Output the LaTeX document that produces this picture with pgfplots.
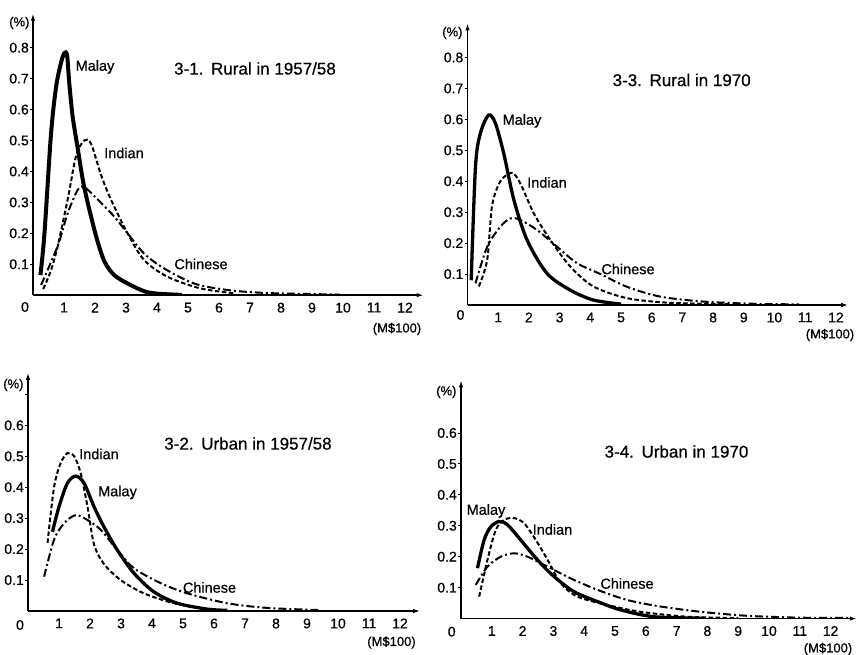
\documentclass[border=0pt]{standalone}
\usepackage{fontspec}
\setmainfont{Liberation Sans}[FakeBold=0.6]
\usepackage{pgfplots}
\pgfplotsset{compat=1.18}
\usetikzlibrary{arrows.meta}

\newcommand\tickfont{\fontsize{14}{15}\selectfont}
\newcommand\labfont{\fontsize{14.5}{15}\selectfont}
\newcommand\titfont{\fontsize{17}{18}\selectfont}
\newcommand\unitfont{\fontsize{13}{14}\selectfont}

\pgfplotsset{
  panel/.style={
    axis lines=left,
    axis line style={line width=1.6pt,-{Latex[length=7pt,width=4.5pt]}},
    xmin=0, ymin=0,
    xtick={1,...,12},
    xticklabels={1,2,3,4,5,6,7,8,9,10,11,12},
    xtick style={draw=none},
    ytick style={line width=0.9pt,black},
    major tick length=3pt, tick align=outside,
    tick label style={font=\tickfont},
    xticklabel style={yshift=-1pt},
    yticklabel style={inner sep=1pt},
    y=309.4pt,
  },
  malay/.style={black,line width=3.3pt,smooth},
  indian/.style={black,line width=2pt,smooth,dash pattern=on 4.5pt off 2.5pt},
  chinese/.style={black,line width=2pt,smooth,dash pattern=on 8pt off 3pt on 2pt off 3pt},
}

\begin{document}
\begin{tikzpicture}
\path[use as bounding box] (0,0) rectangle (857pt,655pt);

% ---- 3-1 Rural in 1957/58
\begin{axis}[panel, at={(33pt,359.8pt)}, anchor=south west,
  x=31pt, xmax=12.6, ymax=0.91,
  ytick={0.1,0.2,0.3,0.4,0.5,0.6,0.7,0.8},
  yticklabels={0.1,0.2,0.3,0.4,0.5,0.6,0.7,0.8}]
\addplot[malay,line width=4pt] coordinates {(0.24,0.065) (0.37,0.20) (0.58,0.52) (0.74,0.67) (0.90,0.75) (1.01,0.782) (1.10,0.775) (1.17,0.685) (1.28,0.577) (1.45,0.47) (1.65,0.35) (2.01,0.20) (2.30,0.11) (2.62,0.065) (3.05,0.038) (3.58,0.013) (4.0,0.005) (4.8,0.001)};
\addplot[indian] coordinates {(0.33,0.02) (0.58,0.08) (0.80,0.16) (1.12,0.31) (1.39,0.45) (1.65,0.50) (1.87,0.49) (2.19,0.39) (2.51,0.31) (3.05,0.20) (3.58,0.114) (4.33,0.06) (5.4,0.022) (6.5,0.006)};
\addplot[chinese] coordinates {(0.26,0.033) (0.80,0.16) (1.12,0.265) (1.44,0.34) (1.65,0.35) (2.08,0.31) (2.62,0.254) (3.05,0.20) (3.58,0.135) (4.22,0.087) (5.19,0.038) (6.26,0.017) (7.55,0.007) (9.9,0.002)};
\end{axis}

% ---- 3-3 Rural in 1970
\begin{axis}[panel, at={(467.5pt,350pt)}, anchor=south west,
  x=30.7pt, xmax=12.4, ymax=0.91,
  ytick={0.1,0.2,0.3,0.4,0.5,0.6,0.7,0.8},
  yticklabels={0.1,0.2,0.3,0.4,0.5,0.6,0.7,0.8}]
\addplot[malay] coordinates {(0.12,0.08) (0.26,0.447) (0.42,0.555) (0.69,0.614) (0.91,0.587) (1.18,0.49) (1.51,0.34) (1.94,0.21) (2.59,0.102) (3.35,0.048) (4.1,0.016) (5.0,0.003)};
\addplot[indian] coordinates {(0.37,0.06) (0.64,0.145) (0.80,0.32) (1.07,0.40) (1.45,0.427) (1.72,0.393) (2.16,0.296) (2.70,0.21) (3.35,0.124) (4.1,0.06) (5.2,0.022) (6.6,0.007) (8.5,0.003)};
\addplot[chinese] coordinates {(0.26,0.07) (0.64,0.188) (1.07,0.253) (1.40,0.28) (1.72,0.275) (2.27,0.242) (2.92,0.188) (3.57,0.135) (4.33,0.10) (5.19,0.059) (6.28,0.027) (7.69,0.011) (9.3,0.004) (10.8,0.002)};
\end{axis}

% ---- 3-2 Urban in 1957/58
\begin{axis}[panel, at={(28pt,44pt)}, anchor=south west,
  x=31pt, xmax=12.65, ymax=0.77,
  ytick={0.1,0.2,0.3,0.4,0.5,0.6,0.7},
  yticklabels={0.1,0.2,0.3,0.4,0.5,0.6,{}}]
\addplot[malay] coordinates {(0.79,0.256) (1.0,0.337) (1.27,0.413) (1.54,0.436) (1.81,0.413) (2.13,0.337) (2.45,0.272) (2.88,0.197) (3.42,0.122) (4.06,0.062) (4.82,0.025) (5.79,0.006) (6.43,0.002)};
\addplot[indian] coordinates {(0.63,0.22) (0.84,0.40) (1.05,0.477) (1.27,0.51) (1.49,0.50) (1.70,0.445) (1.92,0.337) (2.13,0.215) (2.45,0.152) (2.99,0.10) (3.74,0.057) (4.71,0.025) (5.79,0.005)};
\addplot[chinese] coordinates {(0.52,0.111) (0.84,0.23) (1.16,0.283) (1.54,0.31) (1.92,0.294) (2.35,0.262) (2.88,0.197) (3.42,0.138) (4.28,0.09) (5.14,0.057) (6.43,0.025) (7.72,0.01) (9.4,0.003)};
\end{axis}

% ---- 3-4 Urban in 1970
\begin{axis}[panel, at={(461pt,36.4pt)}, anchor=south west,
  x=30.8pt, xmax=12.85, ymax=0.77,
  ytick={0.1,0.2,0.3,0.4,0.5,0.6},
  yticklabels={0.1,0.2,0.3,0.4,0.5,0.6}]
\addplot[malay] coordinates {(0.535,0.163) (0.75,0.254) (0.97,0.297) (1.24,0.314) (1.51,0.303) (1.94,0.254) (2.48,0.19) (3.02,0.136) (3.67,0.087) (4.43,0.055) (5.19,0.028) (6.27,0.006) (7.9,0.001)};
\addplot[indian] coordinates {(0.59,0.071) (0.86,0.19) (1.13,0.287) (1.40,0.319) (1.72,0.325) (2.05,0.308) (2.43,0.254) (2.81,0.19) (3.24,0.114) (3.78,0.071) (4.75,0.044) (5.83,0.022) (7.35,0.006) (9.0,0.002)};
\addplot[chinese] coordinates {(0.48,0.109) (0.86,0.168) (1.29,0.20) (1.72,0.211) (2.16,0.20) (2.81,0.168) (3.56,0.13) (4.43,0.093) (5.4,0.06) (6.48,0.039) (7.78,0.022) (9.3,0.009) (11.0,0.003) (12.6,0.002)};
\end{axis}

% ---- texts
\node[font=\unitfont,anchor=east] at (33pt,632pt) {(\%)};
\node[font=\labfont] at (95pt,588pt) {Malay};
\node[font=\labfont] at (124pt,502pt) {Indian};
\node[font=\labfont] at (201pt,391pt) {Chinese};
\node[font=\titfont] at (255pt,586.5pt) {3-1.\hspace{0.45em}Rural in 1957/58};
\node[font=\tickfont] at (25pt,348pt) {0};
\node[font=\unitfont] at (397pt,326pt) {(M\$100)};

\node[font=\unitfont,anchor=east] at (466pt,622pt) {(\%)};
\node[font=\labfont] at (522pt,534pt) {Malay};
\node[font=\labfont] at (547pt,472.5pt) {Indian};
\node[font=\labfont] at (628pt,386pt) {Chinese};
\node[font=\titfont] at (681.7pt,575pt) {3-3.\hspace{0.45em}Rural in 1970};
\node[font=\tickfont] at (460.5pt,340pt) {0};
\node[font=\unitfont] at (830pt,320pt) {(M\$100)};

\node[font=\unitfont,anchor=east] at (27pt,270pt) {(\%)};
\node[font=\labfont] at (99pt,201pt) {Indian};
\node[font=\labfont] at (117.5pt,162.5pt) {Malay};
\node[font=\labfont] at (209.5pt,67.5pt) {Chinese};
\node[font=\titfont] at (248pt,211.5pt) {3-2.\hspace{0.45em}Urban in 1957/58};
\node[font=\tickfont] at (20pt,30pt) {0};
\node[font=\unitfont] at (391.5pt,12.5pt) {(M\$100)};

\node[font=\unitfont,anchor=east] at (460pt,263pt) {(\%)};
\node[font=\labfont] at (486pt,144pt) {Malay};
\node[font=\labfont] at (552.5pt,125.5pt) {Indian};
\node[font=\labfont] at (627pt,71.5pt) {Chinese};
\node[font=\titfont] at (676.5pt,203.5pt) {3-4.\hspace{0.45em}Urban in 1970};
\node[font=\tickfont] at (451.7pt,23.3pt) {0};
\node[font=\unitfont] at (828pt,6pt) {(M\$100)};
\end{tikzpicture}
\end{document}
